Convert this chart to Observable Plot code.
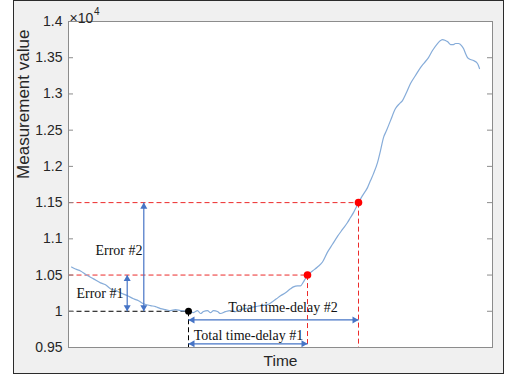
<!DOCTYPE html>
<html><head><meta charset="utf-8">
<script src="https://cdn.jsdelivr.net/npm/d3@7"></script>
<script src="https://cdn.jsdelivr.net/npm/@observablehq/plot@0.6"></script>
<style>
html,body{margin:0;padding:0;background:#fff;width:506px;height:381px;overflow:hidden;}
#fig{position:absolute;left:13px;top:0;width:491px;height:374px;box-sizing:border-box;background:#f0f0f0;border:1px solid #2b2b2b;}
#chart{position:absolute;left:0;top:0;}
</style></head><body>
<div id="fig"></div><div id="chart"></div>
<script>
// Measurement series (time index, value in units of 1)
const time = [3,7,12,18,25,32,37,42,48,52,59,65,70,75,82,87,92,97,102,107,112,117,120,125,129,132,135,139,142,145,149,152,157,162,167,172,177,182,187,192,199,204,208,212,217,222,225,229,232,235,239,244,249,254,259,264,269,274,279,282,285,288,290,294,299,302,305,309,312,315,318,322,327,331,334,338,342,347,352,356,360,364,369,372,374,377,379,382,385,387,390,393,395,397,399,402,405,409,411];
const value = [10611,10583,10556,10501,10447,10392,10365,10310,10283,10255,10214,10173,10146,10105,10078,10064,10037,10023,10010,10023,10010,10003,10000,9982,10010,9969,9996,10010,9982,10010,9996,9969,9996,10010,9996,10023,10037,10051,10064,10078,10092,10133,10173,10214,10255,10310,10337,10351,10351,10406,10500,10556,10611,10680,10816,10925,11034,11130,11225,11294,11362,11444,11500,11597,11707,11804,11900,12052,12218,12398,12494,12632,12798,12867,12909,13019,13143,13254,13364,13433,13502,13599,13696,13737,13751,13737,13723,13682,13682,13696,13696,13668,13627,13558,13502,13475,13461,13420,13351];

const xDomain = [0, 424];
const yDomain = [9500, 14000];
const yTicks = [9500, 10000, 10500, 11000, 11500, 12000, 12500, 13000, 13500, 14000];
const yTickLabels = ["0.95", "1", "1.05", "1.1", "1.15", "1.2", "1.25", "1.3", "1.35", "1.4"];

// Key points
const startPoint = [{t: 120, v: 10000}];
const hitPoints = [{t: 239, v: 10500}, {t: 290, v: 11500}];

// Double-headed arrows
const errorArrows = [{t: 58.7, y1: 10000, y2: 10500}, {t: 75.3, y1: 10000, y2: 11500}];
const delayArrows = [{v: 9551, t1: 120, t2: 239}, {v: 9880, t1: 120, t2: 290}];

// Annotation labels
const labels = [
  {t: 31.5, v: 10244, text: "Error #1"},
  {t: 50.5, v: 10838, text: "Error #2"},
  {t: 180, v: 9666, text: "Total time-delay #1"},
  {t: 214.5, v: 10051, text: "Total time-delay #2"}
];

const series = time.map((t, i) => ({t, v: value[i]}));
const tickLabel = new Map(yTicks.map((d, i) => [d, yTickLabels[i]]));
const arrowColor = "#4674c6";
const lineColor = "#86acd9";
const axisColor = "#8c8c8c";
const plotW = 506 - 68 - 14;

const chart = Plot.plot({
  width: 506, height: 381,
  marginLeft: 68, marginRight: 14, marginTop: 21, marginBottom: 34,
  style: {background: "transparent", fontFamily: "'Liberation Sans', Arial, sans-serif", fontSize: "14px", color: "#262626", overflow: "visible"},
  x: {domain: xDomain, axis: null},
  y: {domain: yDomain, axis: null},
  marks: [
    Plot.frame({fill: "white", stroke: "none"}),
    // guide lines
    Plot.link(startPoint, {x1: () => xDomain[0], x2: "t", y1: "v", y2: "v", stroke: "black", strokeWidth: 1, strokeDasharray: "5,3"}),
    Plot.link(startPoint, {x1: "t", x2: "t", y1: "v", y2: () => yDomain[0], stroke: "black", strokeWidth: 1, strokeDasharray: "5,3"}),
    Plot.link(hitPoints, {x1: () => xDomain[0], x2: "t", y1: "v", y2: "v", stroke: "#ec2a2a", strokeWidth: 1, strokeDasharray: "5,3"}),
    Plot.link(hitPoints, {x1: "t", x2: "t", y1: "v", y2: () => yDomain[0], stroke: "#ec2a2a", strokeWidth: 1, strokeDasharray: "5,3"}),
    // data line
    Plot.line(series, {x: "t", y: "v", stroke: lineColor, strokeWidth: 1.2, curve: "monotone-x"}),
    // arrows
    Plot.link(errorArrows, {x1: "t", x2: "t", y1: "y1", y2: "y2", stroke: arrowColor, strokeWidth: 1.2}),
    Plot.dot(errorArrows, {x: "t", y: "y2", symbol: "triangle", r: 2.6, fill: arrowColor, stroke: "none", dy: 4}),
    Plot.dot(errorArrows, {x: "t", y: "y1", symbol: "triangle", r: 2.6, fill: arrowColor, stroke: "none", rotate: 180, dy: -4}),
    Plot.link(delayArrows, {x1: "t1", x2: "t2", y1: "v", y2: "v", stroke: arrowColor, strokeWidth: 1.2}),
    Plot.dot(delayArrows, {x: "t1", y: "v", symbol: "triangle", r: 2.6, fill: arrowColor, stroke: "none", rotate: -90, dx: 4}),
    Plot.dot(delayArrows, {x: "t2", y: "v", symbol: "triangle", r: 2.6, fill: arrowColor, stroke: "none", rotate: 90, dx: -4}),
    // points
    Plot.dot(startPoint, {x: "t", y: "v", r: 3.5, fill: "black"}),
    Plot.dot(hitPoints, {x: "t", y: "v", r: 3.8, fill: "#ff0000"}),
    // labels
    Plot.text(labels, {x: "t", y: "v", text: "text", fontFamily: "'Liberation Serif', 'Times New Roman', serif", fontSize: 14, fill: "#111"}),
    // axes
    Plot.tickY(yTicks, {y: d => d, insetRight: plotW - 5, stroke: axisColor}),
    Plot.tickY(yTicks, {y: d => d, insetLeft: plotW - 5, stroke: axisColor}),
    Plot.axisY({ticks: yTicks, tickFormat: d => tickLabel.get(d), tickSize: 0, tickPadding: 6, label: null, fontSize: 14, fill: "#262626"}),
    Plot.frame({stroke: axisColor, strokeWidth: 1}),
    Plot.text(["Measurement value"], {text: d => d, frameAnchor: "left", dx: -44.5, dy: -5.6, rotate: -90, fontSize: 17, fill: "#262626"}),
    Plot.text(["Time"], {text: d => d, frameAnchor: "bottom", dy: 18, fontSize: 15.5, fill: "#262626"}),
    Plot.text(["×10"], {text: d => d, frameAnchor: "top-left", textAnchor: "start", dx: 1, dy: -8, fontSize: 14, fill: "#262626"}),
    Plot.text(["4"], {text: d => d, frameAnchor: "top-left", textAnchor: "start", dx: 25.5, dy: -13.5, fontSize: 10, fill: "#262626"})
  ]
});
document.getElementById("chart").appendChild(chart);
</script>
</body></html>
